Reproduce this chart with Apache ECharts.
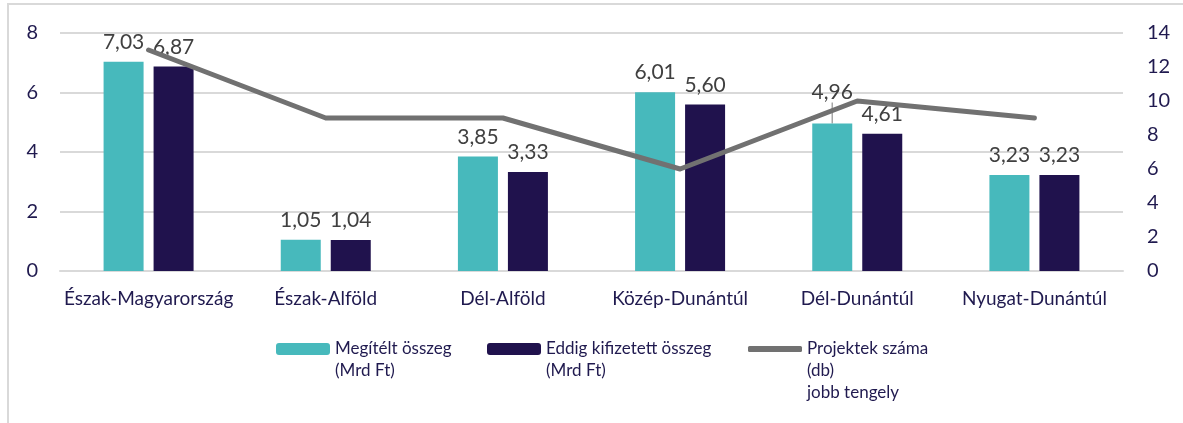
<!DOCTYPE html>
<html>
<head>
<meta charset="utf-8">
<script src="https://cdn.jsdelivr.net/npm/echarts@6/dist/echarts.min.js"></script>
<style>
html, body { margin: 0; padding: 0; background: #fff; }
#main { width: 1183px; height: 423px; }
</style>
</head>
<body>
<div id="main"></div>
<script>
// adatok
const regions = ["Észak-Magyarország", "Észak-Alföld", "Dél-Alföld", "Közép-Dunántúl", "Dél-Dunántúl", "Nyugat-Dunántúl"]
const awarded = [7.03, 1.05, 3.85, 6.01, 4.96, 3.23]     // Megítélt összeg (Mrd Ft)
const paid = [6.87, 1.04, 3.33, 5.60, 4.61, 3.23]        // Eddig kifizetett összeg (Mrd Ft)
const projects = [13, 9, 9, 6, 10, 9]                    // Projektek száma (db)

const navy = "#201A4F"
const font = "Lato, 'Liberation Sans', sans-serif"
// a jelmagyarázat első sora legyen az ikon magasságában -> üres sorok felül
const legendText = {
  "Megítélt összeg": " \nMegítélt összeg\n(Mrd Ft)",
  "Eddig kifizetett összeg": " \nEddig kifizetett összeg\n(Mrd Ft)",
  "Projektek száma": " \n \nProjektek száma\n(db)\njobb tengely"
}

function fmt(p) {
  return p.value.toFixed(2).replace(".", ",")
}

function legendFor(name, left, lines, extra) {
  return Object.assign({
    data: [name],
    left: left,
    top: 349 - lines * 11 - 5,
    itemWidth: 54,
    itemHeight: 12,
    formatter: n => legendText[n],
    textStyle: {
      color: navy,
      fontFamily: font,
      fontSize: 17,
      lineHeight: 22
    }
  }, extra || {})
}

let chart = echarts.init(document.getElementById("main"))
chart.setOption({
  animation: false,
  textStyle: { fontFamily: font },
  grid: { left: 60, right: 60, top: 33, bottom: 152 },
  graphic: [
    {
      type: "polyline",
      shape: { points: [[8, 423], [8, 4], [1183, 4]] },
      style: { stroke: "#d9d9d9", lineWidth: 2, fill: null }
    }
  ],
  legend: [
    legendFor("Megítélt összeg", 271, 3),
    legendFor("Eddig kifizetett összeg", 482, 3),
    legendFor("Projektek száma", 743, 5, { icon: "roundRect", itemHeight: 6 })
  ],
  xAxis: {
    type: "category",
    data: regions,
    axisLine: { lineStyle: { color: "#d9d9d9", width: 2 } },
    axisTick: { show: false },
    axisLabel: { color: navy, fontSize: 19, margin: 18, interval: 0 }
  },
  yAxis: [
    {
      min: 0,
      max: 8,
      interval: 2,
      axisLine: { show: false },
      axisTick: { show: false },
      axisLabel: { color: navy, fontSize: 20, margin: 22 },
      splitLine: { lineStyle: { color: "#d9d9d9", width: 2 } }
    },
    {
      min: 0,
      max: 14,
      interval: 2,
      position: "right",
      axisLine: { show: false },
      axisTick: { show: false },
      axisLabel: { color: navy, fontSize: 20, margin: 24 },
      splitLine: { show: false }
    }
  ],
  series: [
    {
      name: "Megítélt összeg",
      type: "bar",
      barWidth: 40,
      barGap: "25%",
      itemStyle: { color: "#47B9BC" },
      label: { show: true, position: "top", distance: 9, color: "#404040", fontSize: 21, formatter: fmt },
      labelLayout: p => (p.dataIndex === 4 ? { dy: -12 } : {}),
      labelLine: { show: false, lineStyle: { color: "#a6a6a6", width: 1.5 } },
      data: awarded.map((v, i) => (i === 4 ? { value: v, labelLine: { show: true } } : v))
    },
    {
      name: "Eddig kifizetett összeg",
      type: "bar",
      barWidth: 40,
      itemStyle: { color: "#20124D" },
      label: { show: true, position: "top", distance: 9, color: "#404040", fontSize: 21, formatter: fmt },
      data: paid
    },
    {
      name: "Projektek száma",
      type: "line",
      yAxisIndex: 1,
      symbol: "none",
      itemStyle: { color: "#717171" },
      lineStyle: { color: "#717171", width: 5, cap: "round", join: "round" },
      data: projects,
      z: 5
    }
  ]
})
</script>
</body>
</html>
